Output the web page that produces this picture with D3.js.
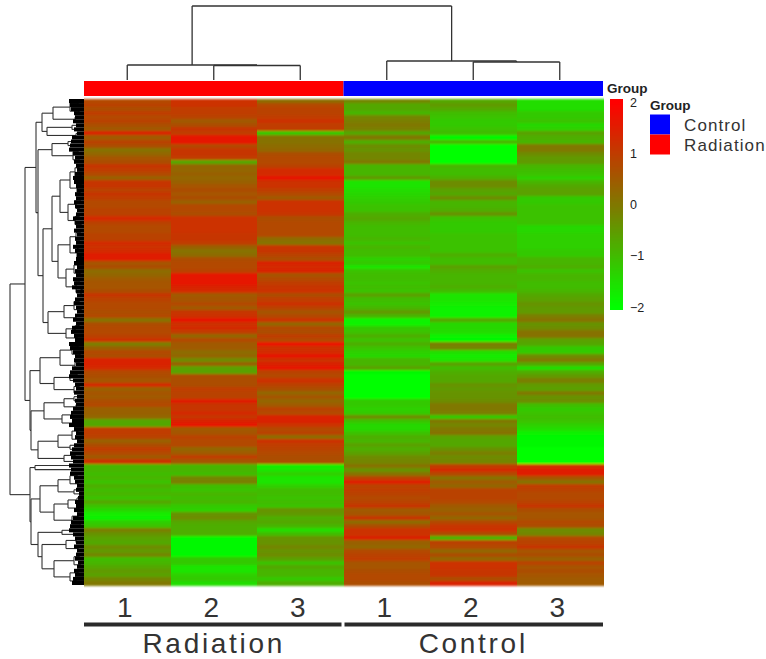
<!DOCTYPE html>
<html><head><meta charset="utf-8">
<script src="https://cdn.jsdelivr.net/npm/d3@7/dist/d3.min.js"></script>
<style>html,body{margin:0;padding:0;background:#fff}svg{display:block}text{font-family:"Liberation Sans",Arial,sans-serif}</style>
</head><body><svg id="c" width="766" height="659"></svg>
<script>
const sampleNames=["1","2","3","1","2","3"];
const groupNames=["Radiation","Control"];
const legendGroups=["Control","Radiation"];
const groupColors={Control:"#0000ff",Radiation:"#ff0000"};
const colorTicks=[2,1,0,-1,-2];

const radiation1=[.8,.9,.7,1,.8,.9,.7,.5,1.4,.5,.9,.7,.1,.3,.6,.7,1.1,1,.8,.4,1.1,1.1,.9,1.1,1,.8,.8,.9,.9,1.3,.9,
.8,.8,.9,.9,1.3,1.2,1.3,1.5,1.5,.6,.7,.2,.3,.5,.6,.6,.7,1.1,.9,.8,.8,.7,.8,.1,.7,.8,.8,.9,1.2,
-.1,.4,.8,.7,1.4,1.4,1.3,.8,.7,.6,1.3,.4,.6,.5,.7,.8,.4,.4,.3,-.7,-.7,1,1,.9,.4,.7,1,.8,.5,1.2,
-.9,-.9,-1,-.9,-1.1,-.8,-1,-.9,-1.1,-.7,-1.1,-1.4,-1.7,-1.8,-1.3,-1.1,-.1,-.4,-.6,-.7,-.3,-.5,-.2,-1,-.9,-.7,-.5,-.6,-.2,0];
const radiation2=[1.2,1.2,1,1,.9,.5,.7,1.1,1,1.6,1.6,.8,1.1,1.1,1,-.7,.3,.3,.4,.3,.4,.6,.7,.6,.7,.4,.8,.8,.7,1.2,1.2,
1.2,1.2,1.1,1.1,1,.4,.1,.2,.7,.8,.8,.9,1.6,1.6,1.6,1.4,1.3,.5,.6,.8,.5,1.1,1.2,1.6,1.2,1.3,1,.3,.8,
.5,.5,.2,.3,-.3,.4,-.6,-.6,.7,.7,.7,1,.9,.9,1.5,1.1,1.1,1.3,1.1,1.4,1.6,.5,.6,.9,.8,.8,.3,.5,1,.6,
-.9,-.9,-1,-.2,-.1,-1,-1.1,-.9,-1,-.9,-1.2,-1.3,-.4,-.3,-.7,-.8,-.8,-.8,-1.9,-1.9,-1.9,-1.9,-1.9,-1.2,-1.2,-1.6,-1.6,-1.3,-1.2,-1.5];
const radiation3=[.2,.8,.9,.9,1,1.2,1,1,-1.2,.1,.1,.2,.3,.7,.8,.8,.9,1.3,1.3,1.6,1.2,1.2,1,.8,.5,1.2,1.2,1.2,1.1,.7,.8,
.8,.8,.8,.2,.1,1.1,1.1,.9,.7,1.4,1.3,1.4,.6,.8,1,1.1,1.2,.7,1,1.2,.9,.6,.8,1.2,.3,.8,.7,1,.8,
1.7,1.2,1.3,1.6,1.2,1.4,1.6,.9,.8,1.2,.9,.7,.3,.6,.3,.5,.9,.8,1.4,1.4,1.2,.8,.9,.2,1.2,1,.9,.8,.7,.7,
-1.7,-1.6,-1.3,-1.6,-1.6,-1.3,-1,-1,-1.1,-1,-1.1,-.4,-.5,-.8,-.7,-.9,-1.5,-1,-.4,-.4,-.2,-.4,-.3,-.6,-1.1,-.7,-.9,-.9,-1.2,-.8];
const control1=[-.2,-.7,-.7,-.9,-.2,-.1,0,-.1,-.7,0,-.8,-.3,-.4,-.2,-.2,0,-.9,-.9,-.9,-.5,-1.6,-1.6,-1.5,-1.4,-1.3,-1.2,-1.1,-1.1,-.8,-.7,-.9,
-1,-1,-1,-.9,-1.1,-.9,-1,-1,-1.3,-1.2,-1.6,-1.1,-1,-1,-1.1,-1,-1.1,-.6,-1,-1.1,-.9,-.5,-.9,-1.8,-1.8,-1.2,-1.1,-.8,-1.1,
-.8,-1.1,-1.3,-1.4,-.9,-.9,-.6,-1.9,-2,-2,-2,-2,-2,-2,-1.2,-1.2,-1.3,-1.2,-.3,-1.1,-1.4,-1.4,-1.1,-.8,-.9,-.6,-.8,-.6,-.3,-.2,
.1,-.4,.1,.9,1.5,.9,1,.9,.8,.9,1.1,.5,.6,1.1,.2,.7,1.2,1.2,1.4,.4,.3,.8,.9,1,.6,.6,.7,.8,.8,.7];
const control2=[-.7,-.5,-.7,-1,-1.1,-1.2,-1.2,-1.1,-1,-1.9,-.9,-2,-2,-2,-2,-2,-.9,-1,-1,-.8,-.3,-.3,-.6,-.7,-.3,-.9,-.9,-.8,-.4,-1.1,-1.2,
-1.2,-1.2,-1.1,-1.1,-1.1,-1.1,-1.1,-.8,-1,-1,-.6,-.8,-.9,-.9,-.9,-.8,-1,-1.6,-1.6,-1.7,-1.8,-1.8,-1.8,-.7,-1.4,-1.4,-1.5,-1.8,-1.9,
-.1,-.2,-1.5,-1.7,-1.6,-.6,-1,-.8,-.7,-.7,-.4,-.5,-.4,-.4,-.3,0,0,-.1,-1.2,0,-.2,0,.1,-.6,-.7,-.7,-.4,-.1,-.3,-.2,
1,1.3,.8,.1,.5,.3,.9,.9,.9,.8,.5,.4,.6,.3,.8,1.1,1.2,.7,-.9,.9,.8,.3,.7,.3,1.2,1.2,1.1,1.1,.7,1.4];
const control3=[-1.5,-1.5,-1.5,-1.2,-1.2,-1.1,-1.4,-1.3,-.6,-.8,-.9,0,0,-.3,-.5,-.5,-.9,-1,-1.1,-1.3,-.9,-.7,-.6,-.6,-1.2,-1.2,-1.1,-1.1,-1.1,-1.1,-1.1,
-1.4,-1.4,-1.3,-1.3,-1.3,-1.3,-1.2,-1.2,-.9,-.9,-.8,-1.1,-.9,-.9,-1,-1,-.9,-.7,-.6,-.4,-.5,-.5,-.1,.1,-.4,-.3,.1,.1,-.6,
-.7,-1.2,-1.2,-.3,0,-.7,-1.5,-.8,-.5,-.1,-.5,-.6,0,-.4,-.3,-1,-1.2,-1.1,-1,-1.1,-1.3,-1.5,-1.8,-1.9,-1.9,-1.9,-2,-2,-2,-2,
1.2,1.5,1.5,.6,.1,1,.9,.8,.8,.9,1.1,.7,.6,.6,.8,.7,-.3,-.2,.8,.9,1.1,.6,.7,.4,.9,.6,.7,.6,.5,.5];
const columnsData=[radiation1,radiation2,radiation3,control1,control2,control3];

// Row dendrogram as nested [distance, child, child]; a bare number is a count of rows.
const clusterA1a=[42,[31,[14,[6,1,1],[5,1,1]],[9,1,1]],[37,[12,1,1],[8,1,1]]];
const clusterA1b=[32,[16,1,1],[11,[6,1,1],[5,1,1]]];
const clusterA1c=[32,[24,[14,[9,[5,1,1],[3,1,1]],[7,[3,1,1],[4,1,1]]],[16,[8,[4,1,1],[5,1,1]],[9,[5,1,1],[3,1,1]]]],
 [26,[14,[8,[4,1,1],[5,1,1]],[7,[6,1,1],[3,1,1]]],[18,[10,[6,1,1],[4,1,1]],[8,[5,1,1],[3,[2,1,1],1]]]]];
const clusterA1d=[36,[20,[10,[5,1,1],[3,1,1]],[8,1,1]],[18,[9,[5,1,1],1],[7,1,1]]];
const clusterA2a=[44,[24,[12,[6,1,1],[4,1,1]],[9,[5,1,1],1]],[30,[14,[7,1,1],1],[10,[5,1,1],1]]];
const clusterA2b=[53,[40,[20,[10,1,1],[8,1,1]],[22,[12,1,1],[7,1,1]]],[46,[26,[12,[6,1,1],[4,1,1]],[14,1,1]],[20,[9,1,1],1]]];
const clusterB1=[44,[26,[14,[7,1,1],[6,1,1]],[10,1,1]],[30,[16,[7,1,1],[5,1,1]],[12,[6,1,1],[4,1,1]]]];
const clusterB2=[46,[22,1,1],[42,[18,[8,1,1],[6,1,1]],[30,[10,[5,1,1],[4,1,1]],[14,[6,1,1],[8,1,1]]]]];
const rowTree=[74,[59,[48,clusterA1a,[46,clusterA1b,[41,clusterA1c,clusterA1d]]],[54,clusterA2a,clusterA2b]],[54,[49,1,1],[53,clusterB1,clusterB2]]];
// Depth of the solid leaf band per row.
const leafDepth=[15,14,13,10,9,11,8,10,7,12,13,14,15,11,9,10,8,7,9,11,10,8,7,9,8,10,9,7,8,11,
9,8,10,7,9,8,11,9,7,8,10,7,9,8,11,10,12,8,7,9,10,8,7,9,11,8,12,13,10,9,
15,14,11,9,10,8,12,14,15,11,9,8,10,7,9,8,11,13,14,12,15,10,8,9,7,10,12,14,13,11,
15,13,14,10,9,7,8,5,6,9,8,10,7,11,13,14,15,11,9,8,10,7,8,9,6,7,10,9,11,12];
// Column dendrogram: distances.
const colTree=[74,[15,0,[14.5,1,2]],[19,3,[18,4,5]]];

const svg=d3.select("#c");
const defs=svg.append("defs");
defs.append("filter").attr("id","soft").attr("x","-2%").attr("y","-2%").attr("width","104%").attr("height","104%")
  .append("feGaussianBlur").attr("stdDeviation","0.4 0.9");
defs.append("filter").attr("id","softLines").attr("filterUnits","userSpaceOnUse").attr("x",0).attr("y",0).attr("width",766).attr("height",659)
  .append("feGaussianBlur").attr("stdDeviation",0.45);
const L=84,R=603,T=99,B=585;
const nRows=radiation1.length;
const x=d3.scaleBand().domain(d3.range(6)).range([L,R]);
const y=d3.scaleBand().domain(d3.range(nRows)).range([T,B]);
const color=d3.scaleLinear().domain([-2,0,2]).range(["#00ff00","#807800","#ff0000"]).clamp(true);

// Heatmap
const hm=svg.append("g").attr("shape-rendering","crispEdges").attr("filter","url(#soft)");
columnsData.forEach((col,c)=>{
  hm.selectAll(null).data(col).join("rect")
    .attr("x",x(c)).attr("width",x.bandwidth()+.5)
    .attr("y",(d,i)=>y(i)).attr("height",y.bandwidth()+.5)
    .attr("fill",d=>color(d));
});

// Row dendrogram
const distX=d3.scaleLinear().domain([0,74]).range([L,10]);
const rootR=d3.hierarchy(rowTree,d=>Array.isArray(d)?d.slice(1):null);
let cursor=0;
rootR.eachAfter(n=>{
  if(!n.children){const k=n.data;n.yy=y(cursor)+k*y.step()/2;n.dist=0;cursor+=k;}
  else{n.yy=d3.mean(n.children,c=>c.yy);n.dist=n.data[0];}
});
const dendro=svg.append("g").attr("filter","url(#softLines)");
const gR=dendro.append("g").attr("fill","none").attr("stroke","#333").attr("stroke-width",1.1);
rootR.each(n=>{
  if(!n.children)return;
  const ys=n.children.map(c=>c.yy);
  gR.append("line").attr("x1",distX(n.dist)).attr("x2",distX(n.dist)).attr("y1",d3.min(ys)).attr("y2",d3.max(ys));
  n.children.forEach(c=>gR.append("line").attr("x1",distX(n.dist)).attr("x2",distX(c.dist)).attr("y1",c.yy).attr("y2",c.yy));
});
dendro.append("g").selectAll("rect").data(leafDepth).join("rect")
  .attr("x",d=>distX(d)).attr("width",d=>L-distX(d))
  .attr("y",(d,i)=>y(i)).attr("height",y.bandwidth()).attr("fill","#000");

// Column dendrogram
const distY=d3.scaleLinear().domain([0,74]).range([80,6]);
const rootC=d3.hierarchy(colTree,d=>Array.isArray(d)?d.slice(1):null);
rootC.eachAfter(n=>{
  if(!n.children){n.xx=x(n.data)+x.bandwidth()/2;n.dist=0;}
  else{n.xx=d3.mean(n.children,c=>c.xx);n.dist=n.data[0];}
});
const gC=svg.append("g").attr("fill","none").attr("stroke","#333").attr("stroke-width",1.3).attr("filter","url(#softLines)");
rootC.each(n=>{
  if(!n.children)return;
  const xs=n.children.map(c=>c.xx);
  gC.append("line").attr("y1",distY(n.dist)).attr("y2",distY(n.dist)).attr("x1",d3.min(xs)).attr("x2",d3.max(xs));
  n.children.forEach(c=>gC.append("line").attr("y1",distY(n.dist)).attr("y2",distY(c.dist)).attr("x1",c.xx).attr("x2",c.xx));
});

// Annotation bar
const groupX=d3.scaleBand().domain(groupNames).range([L,R]);
svg.append("g").selectAll("rect").data(groupNames).join("rect")
  .attr("x",d=>groupX(d)).attr("width",groupX.bandwidth()).attr("y",81).attr("height",15)
  .attr("fill",d=>groupColors[d]);
svg.append("text").attr("x",607).attr("y",93).attr("font-size",13.5).attr("font-weight","bold").attr("fill","#222").text("Group");

// Colour bar
const cbY=d3.scaleLinear().domain([-2,2]).range([307,102]);
const cbVals=d3.range(-2.04,2.05,.02);
svg.append("g").attr("shape-rendering","crispEdges").selectAll("rect").data(cbVals).join("rect")
  .attr("x",610).attr("width",13).attr("y",d=>cbY(d)-1).attr("height",2).attr("fill",d=>color(d));
svg.append("g").selectAll("text").data(colorTicks).join("text")
  .attr("x",630).attr("y",d=>cbY(d)+4.5).attr("font-size",12.5).attr("fill","#222")
  .text(d=>d<0?"\u2212"+(-d):d);

// Legend
svg.append("text").attr("x",650).attr("y",110).attr("font-size",13.5).attr("font-weight","bold").attr("fill","#222").text("Group");
const lgY=d3.scaleBand().domain(legendGroups).range([114.5,154.5]);
svg.append("g").selectAll("rect").data(legendGroups).join("rect")
  .attr("x",650).attr("width",20).attr("y",d=>lgY(d)).attr("height",lgY.bandwidth()).attr("fill",d=>groupColors[d]);
svg.append("g").selectAll("text").data(legendGroups).join("text")
  .attr("x",684).attr("y",d=>lgY(d)+16).attr("font-size",17).attr("letter-spacing",1.1).attr("fill","#333").text(d=>d);

// Sample numbers, group rules and names
svg.append("g").selectAll("text").data(sampleNames).join("text")
  .attr("x",(d,i)=>x(i)+x.bandwidth()/2-2.5).attr("y",617).attr("text-anchor","middle")
  .attr("font-size",28).attr("fill","#333").text(d=>d);
svg.append("g").selectAll("line").data(groupNames).join("line")
  .attr("x1",d=>groupX(d)+(d==="Control"?1:0)).attr("x2",d=>groupX(d)+groupX.bandwidth()-(d==="Radiation"?2:0))
  .attr("y1",624.5).attr("y2",624.5).attr("stroke","#2a2a2a").attr("stroke-width",4);
svg.append("g").selectAll("text").data(groupNames).join("text")
  .attr("x",d=>groupX(d)+groupX.bandwidth()/2).attr("y",653).attr("text-anchor","middle")
  .attr("font-size",28).attr("letter-spacing",2.7).attr("fill","#333").text(d=>d);
</script></body></html>
